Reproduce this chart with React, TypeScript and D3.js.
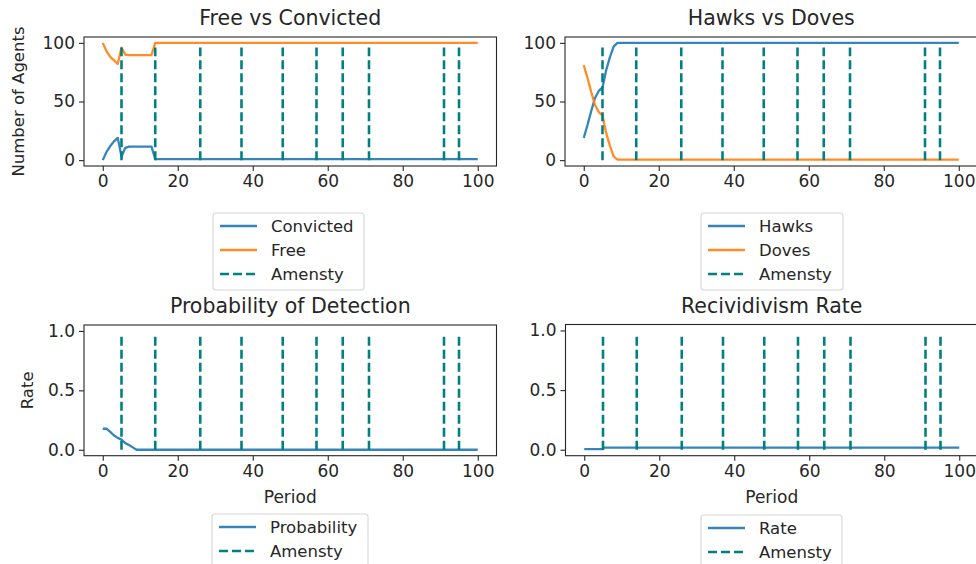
import React, { useEffect, useRef } from "react";
import * as d3 from "d3";

// amnesty periods (vertical dashed lines)
const amnestyPeriods = [5, 14, 26, 37, 48, 57, 64, 71, 91, 95];

// Free vs Convicted
const agentPeriods = [0, 1, 2, 3, 4, 5, 6, 7, 8, 9, 10, 11, 12, 13, 14, 100];
const convicted = [0, 7, 12, 16, 19, 3, 10.5, 11.5, 11.5, 11.5, 11.5, 11.5, 11.5, 11.5, 0.8, 0.8];
const free = [100, 93, 88, 85, 82, 96, 90, 89.5, 89.5, 89.5, 89.5, 89.5, 89.5, 89.5, 100, 100];

// Hawks vs Doves
const strategyPeriods = [0, 1, 2, 3, 4, 5, 6, 7, 8, 9, 100];
const hawks = [19, 30, 42, 53, 59, 62, 77, 88, 97, 100, 100];
const doves = [81, 70, 58, 47, 41, 38, 23, 12, 3, 0.5, 0.5];

// Probability of Detection
const probPeriods = [0, 1, 2, 3, 4, 5, 6, 7, 8, 9, 100];
const probability = [0.177, 0.177, 0.15, 0.12, 0.1, 0.085, 0.056, 0.04, 0.02, 0.0, 0.0];

// Recidivism rate
const ratePeriods = [0, 5, 5.01, 100];
const rate = [0.005, 0.005, 0.017, 0.017];

const xTicks = [0, 20, 40, 60, 80, 100];
const countTicks = [0, 50, 100];
const rateTicks = [0, 0.5, 1.0];

const BLUE = "#1f77b4";
const ORANGE = "#ff7f0e";
const TEAL = "#008080";
const FONT = "DejaVu Sans, sans-serif";

const panels = [
  {
    title: "Free vs Convicted",
    box: [84, 37, 496.5, 166],
    yDomain: [-5, 105],
    yTicks: countTicks,
    yFmt: (d) => String(d),
    yLabel: "Number of Agents",
    yLabelX: 18,
    xLabel: null,
    amnestyTop: 96,
    series: [
      { name: "Convicted", x: agentPeriods, y: convicted, color: BLUE },
      { name: "Free", x: agentPeriods, y: free, color: ORANGE },
    ],
    legend: { left: 213, top: 213, width: 151, height: 77 },
  },
  {
    title: "Hawks vs Doves",
    box: [565, 37, 977.5, 166],
    yDomain: [-5, 105],
    yTicks: countTicks,
    yFmt: (d) => String(d),
    yLabel: null,
    xLabel: null,
    amnestyTop: 96,
    series: [
      { name: "Hawks", x: strategyPeriods, y: hawks, color: BLUE },
      { name: "Doves", x: strategyPeriods, y: doves, color: ORANGE },
    ],
    legend: { left: 701, top: 213, width: 142, height: 77 },
  },
  {
    title: "Probability of Detection",
    box: [84, 325, 496.5, 455.7],
    yDomain: [-0.05, 1.05],
    yTicks: rateTicks,
    yFmt: (d) => d.toFixed(1),
    yLabel: "Rate",
    yLabelX: 27,
    xLabel: "Period",
    amnestyTop: 0.97,
    series: [{ name: "Probability", x: probPeriods, y: probability, color: BLUE }],
    legend: { left: 212, top: 514, width: 156, height: 54 },
  },
  {
    title: "Recividivism Rate",
    box: [565.5, 324.5, 978, 455.7],
    yDomain: [-0.05, 1.05],
    yTicks: rateTicks,
    yFmt: (d) => d.toFixed(1),
    yLabel: null,
    xLabel: "Period",
    amnestyTop: 0.97,
    series: [{ name: "Rate", x: ratePeriods, y: rate, color: BLUE }],
    legend: { left: 701, top: 515, width: 141, height: 54 },
  },
];

export default function App() {
  const svgRef = useRef(null);

  useEffect(() => {
    const svg = d3.select(svgRef.current);
    svg.selectAll("*").remove();

    panels.forEach((p) => {
      const [x0, y0, x1, y1] = p.box;
      const x = d3.scaleLinear().domain([-5, 105]).range([x0, x1]);
      const y = d3.scaleLinear().domain(p.yDomain).range([y1, y0]);
      const g = svg.append("g");

      // title
      g.append("text")
        .attr("x", (x0 + x1) / 2)
        .attr("y", y0 - 12)
        .attr("text-anchor", "middle")
        .attr("font-size", 20.5)
        .attr("fill", "#262626")
        .text(p.title);

      // clip to axes
      const clipId = "clip-" + p.title.replace(/\s/g, "");
      svg.append("clipPath").attr("id", clipId)
        .append("rect").attr("x", x0).attr("y", y0).attr("width", x1 - x0).attr("height", y1 - y0);

      const plot = g.append("g").attr("clip-path", `url(#${clipId})`);

      const line = d3.line().x((d) => x(d[0])).y((d) => y(d[1]));
      p.series.forEach((s) => {
        plot.append("path")
          .datum(s.x.map((t, i) => [t, s.y[i]]))
          .attr("d", line)
          .attr("fill", "none")
          .attr("stroke", s.color)
          .attr("stroke-opacity", 0.9)
          .attr("stroke-width", 2.3)
          .attr("stroke-linejoin", "round");
      });

      plot.selectAll(".amnesty")
        .data(amnestyPeriods)
        .join("line")
        .attr("x1", (d) => x(d))
        .attr("x2", (d) => x(d))
        .attr("y1", y(0))
        .attr("y2", y(p.amnestyTop))
        .attr("stroke", TEAL)
        .attr("stroke-width", 2.6)
        .attr("stroke-dasharray", "9,4");

      // x axis
      const xAxis = g.append("g")
        .attr("transform", `translate(0,${y1})`)
        .call(d3.axisBottom(x).tickValues(xTicks).tickSize(5).tickPadding(4));
      // y axis
      const yAxis = g.append("g")
        .attr("transform", `translate(${x0},0)`)
        .call(d3.axisLeft(y).tickValues(p.yTicks).tickFormat(p.yFmt).tickSize(5).tickPadding(4));
      [xAxis, yAxis].forEach((a) => {
        a.select(".domain").remove();
        a.selectAll("line").attr("stroke", "#262626").attr("stroke-width", 1.1);
        a.selectAll("text").attr("font-size", 17).attr("font-family", FONT).attr("fill", "#262626");
      });

      g.append("rect")
        .attr("x", x0).attr("y", y0).attr("width", x1 - x0).attr("height", y1 - y0)
        .attr("fill", "none").attr("stroke", "#262626").attr("stroke-width", 1.1);

      if (p.yLabel) {
        g.append("text")
          .attr("transform", `translate(${p.yLabelX},${(y0 + y1) / 2}) rotate(-90)`)
          .attr("text-anchor", "middle")
          .attr("dominant-baseline", "central")
          .attr("font-size", 16.5)
          .attr("fill", "#262626")
          .text(p.yLabel);
      }
      if (p.xLabel) {
        g.append("text")
          .attr("x", (x0 + x1) / 2)
          .attr("y", y1 + 41)
          .attr("dominant-baseline", "central")
          .attr("text-anchor", "middle")
          .attr("font-size", 17)
          .attr("fill", "#262626")
          .text(p.xLabel);
      }

      // legend
      const lg = p.legend;
      const entries = [
        ...p.series.map((s) => ({ name: s.name, color: s.color, dash: null })),
        { name: "Amensty", color: TEAL, dash: "9,4" },
      ];
      const leg = g.append("g");
      leg.append("rect")
        .attr("x", lg.left).attr("y", lg.top).attr("width", lg.width).attr("height", lg.height)
        .attr("rx", 3).attr("fill", "#fff").attr("fill-opacity", 0.8)
        .attr("stroke", "#d6d6d6").attr("stroke-width", 1.1);
      entries.forEach((e, i) => {
        const cy = lg.top + 13 + i * 24;
        leg.append("line")
          .attr("x1", lg.left + 7).attr("x2", lg.left + 44)
          .attr("y1", cy).attr("y2", cy)
          .attr("stroke", e.color)
          .attr("stroke-opacity", e.dash ? 1 : 0.9)
          .attr("stroke-width", e.dash ? 2.6 : 2.3)
          .attr("stroke-dasharray", e.dash);
        leg.append("text")
          .attr("x", lg.left + 58).attr("y", cy)
          .attr("dominant-baseline", "central")
          .attr("font-size", 16.5)
          .attr("fill", "#262626")
          .text(e.name);
      });
    });
  }, []);

  return (
    <svg
      ref={svgRef}
      width={976}
      height={564}
      style={{ position: "absolute", left: 0, top: 0, background: "#fff", fontFamily: FONT }}
    />
  );
}
